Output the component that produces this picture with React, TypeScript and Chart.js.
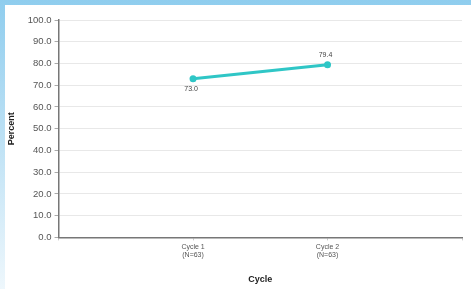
import React, { useEffect, useRef } from "react";
import { Chart, registerables } from "chart.js";

Chart.register(...registerables);

const categories: (string | string[])[] = ["", ["Cycle 1", "(N=63)"], ["Cycle 2", "(N=63)"], ""];
const percentValues: (number | null)[] = [null, 73.0, 79.4, null];
const dataLabels: string[] = ["", "73.0", "79.4", ""];
const labelBelow: boolean[] = [false, true, false, false];

const valueLabelPlugin = {
  id: "valueLabels",
  afterDatasetsDraw(chart: any) {
    const ctx = chart.ctx;
    const meta = chart.getDatasetMeta(0);
    ctx.save();
    ctx.font = "7px 'Liberation Sans', Arial, sans-serif";
    ctx.fillStyle = "#444";
    ctx.textAlign = "center";
    meta.data.forEach((pt: any, i: number) => {
      if (percentValues[i] == null) return;
      const below = labelBelow[i];
      ctx.textBaseline = below ? "top" : "bottom";
      ctx.fillText(dataLabels[i], pt.x - 2, below ? pt.y + 7 : pt.y - 6);
    });
    ctx.restore();
  },
};

export default function App() {
  const ref = useRef<HTMLCanvasElement | null>(null);
  useEffect(() => {
    if (!ref.current) return;
    const chart = new Chart(ref.current, {
      type: "line",
      data: {
        labels: categories,
        datasets: [
          {
            data: percentValues,
            borderColor: "#2fc6c6",
            backgroundColor: "#2fc6c6",
            borderWidth: 3,
            pointRadius: 3.5,
            pointBackgroundColor: "#2fc6c6",
            pointBorderWidth: 0,
            spanGaps: false,
          },
        ],
      },
      options: {
        animation: false,
        responsive: false,
        maintainAspectRatio: false,
        layout: { padding: { top: 20, right: 9, left: 6, bottom: 4 } },
        plugins: { legend: { display: false }, tooltip: { enabled: false } },
        scales: {
          x: {
            offset: false,
            border: { display: true, color: "#777", width: 1.5 },
            grid: { drawOnChartArea: false, drawTicks: true, tickLength: 3, color: "#ccc" },
            ticks: {
              color: "#555",
              font: { size: 7, family: "'Liberation Sans', Arial, sans-serif" },
              padding: 2,
              maxRotation: 0,
              autoSkip: false,
            },
            title: {
              display: true,
              text: "Cycle",
              color: "#222",
              font: { size: 9, weight: "bold", family: "'Liberation Sans', Arial, sans-serif" },
              padding: { top: 13, bottom: 0 },
            },
          },
          y: {
            min: 0,
            max: 100,
            border: { display: true, color: "#777", width: 1.5 },
            grid: { color: "#e8e8e8", lineWidth: 1, drawTicks: true, tickLength: 4, tickColor: "#aaa" },
            ticks: {
              stepSize: 10,
              color: "#555",
              font: { size: 9.5, family: "'Liberation Sans', Arial, sans-serif" },
              padding: 3,
              callback: (v: any) => Number(v).toFixed(1),
            },
            title: {
              display: true,
              text: "Percent",
              color: "#222",
              font: { size: 9, weight: "bold", family: "'Liberation Sans', Arial, sans-serif" },
              padding: { top: 0, bottom: 8 },
            },
          },
        },
      },
      plugins: [valueLabelPlugin],
    });
    return () => chart.destroy();
  }, []);

  return (
    <div
      style={{
        position: "fixed",
        left: 0,
        top: 0,
        width: 471,
        height: 289,
        background: "linear-gradient(180deg, #8fcdee 0%, #bfe2f5 50%, #eef7fc 100%)",
      }}
    >
      <div
        style={{
          position: "absolute",
          left: 5,
          top: 5,
          right: 0,
          bottom: 0,
          background: "#ffffff",
        }}
      />
      <canvas
        ref={ref}
        width={471}
        height={289}
        style={{ position: "absolute", left: 0, top: 0, width: 471, height: 289 }}
      />
    </div>
  );
}
